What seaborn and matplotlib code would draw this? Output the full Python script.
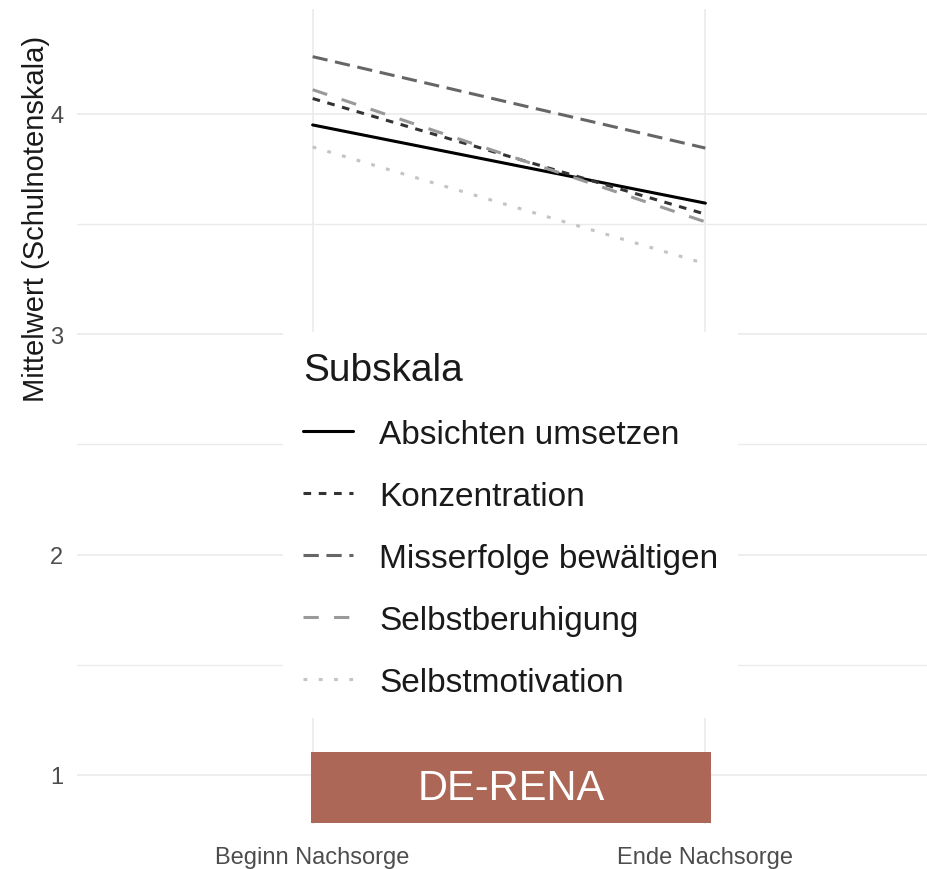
import matplotlib.pyplot as plt
import matplotlib.patches as mpatches
import pandas as pd
import seaborn as sb

# Werte
zeitpunkte = ["Beginn Nachsorge", "Ende Nachsorge"]
subskalen = ["Absichten umsetzen", "Konzentration", "Misserfolge bewältigen",
             "Selbstberuhigung", "Selbstmotivation"]
beginn = [3.95, 4.07, 4.26, 4.11, 3.85]
ende = [3.595, 3.545, 3.845, 3.51, 3.32]
y_ticks = [1, 2, 3, 4]
y_minor = [1.5, 2.5, 3.5]
stichprobe = "DE-RENA"

grautoene = ["#000000", "#333333", "#666666", "#999999", "#c4c4c4"]

rows = []
for i, s in enumerate(subskalen):
    rows.append({"Zeitpunkt": zeitpunkte[0], "Mittelwert": beginn[i], "Subskala": s})
    rows.append({"Zeitpunkt": zeitpunkte[1], "Mittelwert": ende[i], "Subskala": s})
df = pd.DataFrame(rows)

# ggplot-artige Linientypen (solid, 22, 42, 44, 13)
u = 1.25
linetypes = {
    subskalen[0]: "",
    subskalen[1]: (2 * u, 2 * u),
    subskalen[2]: (4 * u, 2 * u),
    subskalen[3]: (4 * u, 4 * u),
    subskalen[4]: (1 * u, 3 * u),
}

sb.set_style("whitegrid", {"grid.color": "#EBEBEB", "axes.edgecolor": "white"})
plt.rcParams['font.family'] = ['Liberation Sans', 'DejaVu Sans']

fig = plt.figure(figsize=(9.28, 8.7), dpi=100)
ax = fig.add_axes([0.083, 0.0517, 0.931, 0.937])

sb.lineplot(data=df, x="Zeitpunkt", y="Mittelwert", hue="Subskala", style="Subskala",
            hue_order=subskalen, style_order=subskalen, palette=grautoene,
            dashes=linetypes, linewidth=2.2, legend=False, ax=ax)

ax.set_xlim(-0.6, 1.6)
ax.set_ylim(0.777, 4.477)
ax.set_yticks(y_ticks)
ax.set_yticks(y_minor, minor=True)
ax.grid(which="major", color="#EBEBEB", linewidth=1.2)
ax.grid(which="minor", axis="y", color="#EBEBEB", linewidth=1.0)
for sp in ax.spines.values():
    sp.set_visible(False)

ax.set_xlabel("")
ax.set_ylabel("Mittelwert (Schulnotenskala)", fontsize=21, color="#1a1a1a")
ax.yaxis.set_label_coords(-0.031, 0.744)
ax.tick_params(axis="x", length=0, pad=16, labelsize=17, labelcolor="#4D4D4D")
ax.tick_params(axis="y", which="both", length=0, pad=10, labelsize=17, labelcolor="#4D4D4D")

# Stichproben-Label
box_x0, box_x1 = -0.005, 1.015
box_y0, box_y1 = 0.78, 1.105
ax.add_patch(mpatches.Rectangle((box_x0, box_y0), box_x1 - box_x0, box_y1 - box_y0,
                                facecolor="#AC6757", edgecolor="none", zorder=5))
ax.text((box_x0 + box_x1) / 2, (box_y0 + box_y1) / 2, stichprobe, color="white",
        fontsize=30, ha="center", va="center", zorder=6)

leg = ax.legend(ax.get_lines()[:len(subskalen)], subskalen, title="Subskala",
                loc="upper left", bbox_to_anchor=(283 / 928, 1 - 333 / 870),
                bbox_transform=fig.transFigure, borderaxespad=0,
                fontsize=24, title_fontsize=28, alignment="left",
                handlelength=1.5, handletextpad=0.78, labelspacing=0.93,
                borderpad=0.6, frameon=True, fancybox=False, framealpha=1,
                facecolor="white", edgecolor="none")
for t in leg.get_texts():
    t.set_color("#1a1a1a")
leg.get_title().set_color("#1a1a1a")
leg.set_zorder(10)

plt.savefig("out.png", dpi=100)
